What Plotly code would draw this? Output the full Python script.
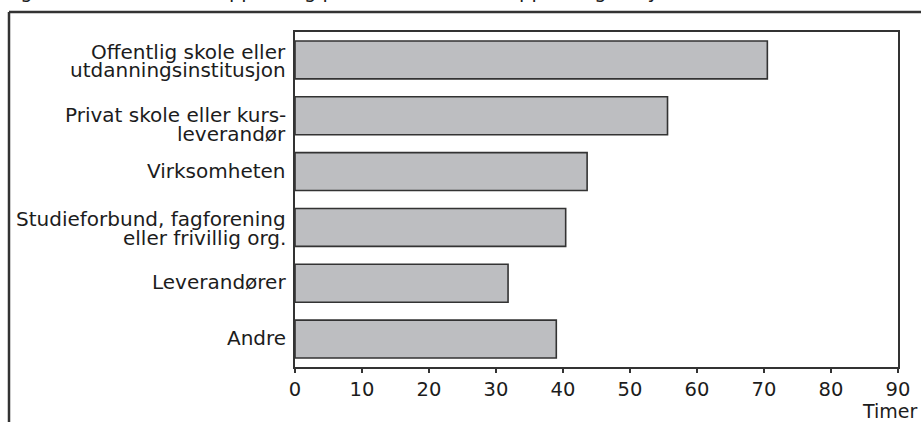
import plotly.graph_objects as go

# Hours of training per participant, by training provider
categories = [
    "Offentlig skole eller<br>utdanningsinstitusjon",
    "Privat skole eller kurs-<br>leverandør",
    "Virksomheten",
    "Studieforbund, fagforening<br>eller frivillig org.",
    "Leverandører",
    "Andre",
]
hours = [70.5, 55.6, 43.6, 40.4, 31.8, 39.0]
x_ticks = [0, 10, 20, 30, 40, 50, 60, 70, 80, 90]
title_text = "Figur 6.3 Antall timer opplæring per deltaker, etter opplæringstilbyder"
axis_title = "Timer"

W, H = 921, 422
L, R, T, B = 295, 23, 32, 55
PW, PH = W - L - R, H - T - B

FONT = "DejaVu Sans"
TXT = "#1c1c1c"
LAB_FS = 20
TICK_FS = 19.5
BASE_K = 0.346   # baseline offset below text-box centre, as a share of font size


def px_to_paper_x(px):
    return (px - L) / PW


def px_to_paper_y(py):
    return (T + PH - py) / PH


fig = go.Figure(
    go.Bar(
        x=hours,
        y=categories,
        orientation="h",
        width=0.68,
        marker=dict(color="#bdbec1", line=dict(color="#333333", width=1.6)),
        hoverinfo="x+y",
    )
)

annotations = []
# category labels, one annotation per text line for tight leading
line_gap = 18.8
nudge = {1: 8.0}
for i, cat in enumerate(categories):
    lines = cat.split("<br>")
    first_base = 6.0 if len(lines) == 1 else -1.5
    first_base += nudge.get(i, 0.0)
    for k, ln in enumerate(lines):
        base = first_base + k * line_gap
        centre = base - BASE_K * LAB_FS
        annotations.append(dict(
            x=0, xref="paper", xanchor="right", xshift=-7,
            y=cat, yref="y", yanchor="middle", yshift=-centre,
            text=ln, showarrow=False,
            font=dict(family=FONT, size=LAB_FS, color=TXT),
        ))

annotations.append(dict(
    x=px_to_paper_x(919), xref="paper", xanchor="right",
    y=px_to_paper_y(418 - BASE_K * 19), yref="paper", yanchor="middle",
    text=axis_title, showarrow=False,
    font=dict(family=FONT, size=19, color=TXT),
))

annotations.append(dict(
    x=px_to_paper_x(3), xref="paper", xanchor="left",
    y=px_to_paper_y(-1.5 - BASE_K * 19.5), yref="paper", yanchor="middle",
    text=title_text, showarrow=False,
    font=dict(family=FONT, size=19.5, color=TXT),
))

shapes = [
    # outer frame: left and top edges
    dict(type="line", xref="paper", yref="paper",
         x0=px_to_paper_x(9), x1=px_to_paper_x(9),
         y0=px_to_paper_y(12), y1=px_to_paper_y(430),
         line=dict(color="#333333", width=2.5)),
    dict(type="line", xref="paper", yref="paper",
         x0=px_to_paper_x(9), x1=px_to_paper_x(930),
         y0=px_to_paper_y(12), y1=px_to_paper_y(12),
         line=dict(color="#333333", width=2.5)),
]

fig.update_layout(
    width=W, height=H,
    margin=dict(l=L, r=R, t=T, b=B, pad=0),
    paper_bgcolor="white", plot_bgcolor="white",
    showlegend=False,
    font=dict(family=FONT, color=TXT),
    annotations=annotations,
    shapes=shapes,
    bargap=0.32,
    xaxis=dict(
        range=[0, 90], tickvals=x_ticks, ticktext=[str(v) for v in x_ticks],
        ticks="outside", ticklen=4, tickwidth=1.5, tickcolor="#333333",
        showline=True, linecolor="#333333", linewidth=1.5, mirror=True,
        showgrid=False, zeroline=False,
        tickfont=dict(family=FONT, size=TICK_FS, color=TXT),
        fixedrange=True,
    ),
    yaxis=dict(
        categoryorder="array", categoryarray=categories, autorange="reversed",
        showticklabels=False, ticks="",
        showline=True, linecolor="#333333", linewidth=1.5, mirror=True,
        showgrid=False, zeroline=False, fixedrange=True,
    ),
)

fig.write_html("out.html")
